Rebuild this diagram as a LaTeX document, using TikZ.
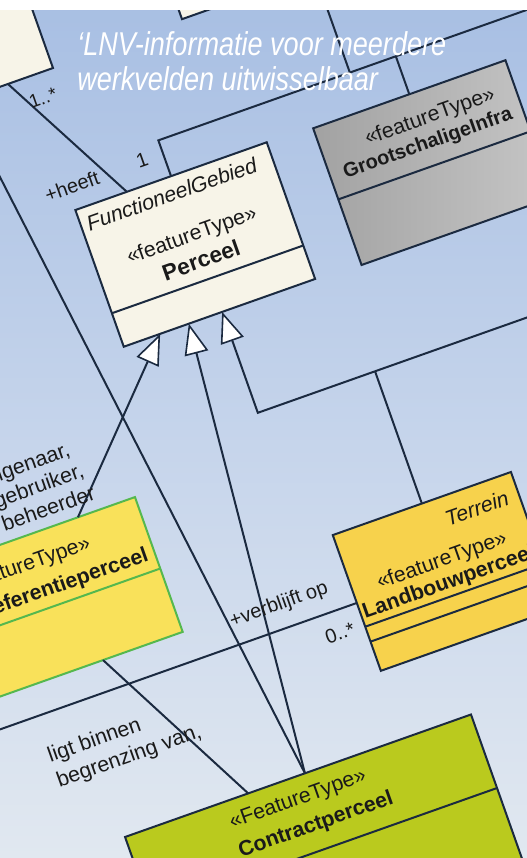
\documentclass[tikz,border=0pt]{standalone}
\usepackage{fontspec}
\setmainfont{Liberation Sans}
\newfontfamily\headfont[FakeStretch=0.82]{Liberation Sans}
\usetikzlibrary{arrows.meta,calc}
\definecolor{bgtop}{HTML}{A8BFE3}
\definecolor{bgmid}{HTML}{C5D4EB}
\definecolor{bgbot}{HTML}{E1E8F0}
\definecolor{linec}{HTML}{1B2A40}
\definecolor{cream}{HTML}{F7F4E8}
\definecolor{greyl}{HTML}{A2A2A2}
\definecolor{greyr}{HTML}{C6C6C6}
\definecolor{yel}{HTML}{F9E15A}
\definecolor{yelb}{HTML}{55B84E}
\definecolor{gold}{HTML}{F7D24C}
\definecolor{lime}{HTML}{BACA1E}
\definecolor{txt}{HTML}{1A1A1A}
\begin{document}
\begin{tikzpicture}[x=0.75pt,y=-0.75pt,
  umlbox/.style={draw=linec, line width=1.5pt, rotate=19.5, inner sep=0pt, outer sep=0pt},
  conn/.style={draw=linec, line width=1.5pt},
  gen/.style={conn, -{Triangle[fill=white, length=23pt, width=18pt, line width=1.2pt]}},
  lbl/.style={text=txt, rotate=19.5, inner sep=0pt, font=\fontsize{15}{18}\selectfont},
  btxt/.style={text=txt, rotate=19.5, inner sep=0pt, font=\fontsize{16}{19}\selectfont},
  bname/.style={btxt, font=\fontsize{16}{19}\selectfont\bfseries},
  head/.style={text=white, inner sep=0pt, anchor=base west, font=\headfont\itshape\fontsize{24.75}{26}\selectfont}
]
\useasboundingbox (0,0) rectangle (527,858);
\clip (0,0) rectangle (527,858);
\shade[top color=bgtop, bottom color=bgbot, middle color=bgmid] (0,0) rectangle (527,858);

% boxes
\node[umlbox, fill=cream, minimum width=150pt, minimum height=112.5pt] (TL) at (-66.3,30.7) {};
\node[umlbox, fill=cream, minimum width=112.5pt, minimum height=75pt] (TF) at (236,-53) {};
\node[umlbox, fill=cream, minimum width=152.25pt, minimum height=108.75pt] (P) at (195.25,244.5) {};
\draw[conn] ($(P.north west)!0.755!(P.south west)$) -- ($(P.north east)!0.755!(P.south east)$);
\node[umlbox, left color=greyl, right color=greyr, minimum width=153pt, minimum height=108.75pt] (G) at (433.5,162.6) {};
\draw[conn] ($(G.north west)!0.52!(G.south west)$) -- ($(G.north east)!0.52!(G.south east)$);
\node[umlbox, fill=yel, draw=yelb, minimum width=187.5pt, minimum height=107.25pt] (D) at (41,606.2) {};
\draw[conn, draw=yelb] ($(D.north west)!0.53!(D.south west)$) -- ($(D.north east)!0.53!(D.south east)$);
\node[umlbox, fill=gold, minimum width=141.75pt, minimum height=108pt] (L) at (445.9,571.4) {};
\draw[conn] ($(L.north west)!0.675!(L.south west)$) -- ($(L.north east)!0.675!(L.south east)$);
\draw[conn] ($(L.north west)!0.785!(L.south west)$) -- ($(L.north east)!0.785!(L.south east)$);
\node[umlbox, fill=lime, minimum width=275.25pt, minimum height=150pt] (C) at (331.4,870) {};
\draw[conn] ($(C.north west)!0.39!(C.south west)$) -- ($(C.north east)!0.39!(C.south east)$);

% connectors
\coordinate (c1) at ($(P.north)+(-12.7,-35.8)$);
\coordinate (e1) at ($(c1)+(386.9,-137)$);
\draw[conn] (P.north) -- (c1) -- (e1);
\coordinate (j1) at ($(c1)!(G.north)!(e1)$);
\draw[conn] (j1) -- (G.north);
\coordinate (j2) at ($(c1)+(191.5,-67.8)$);
\coordinate (u2) at ($(j2)+(-23.4,-66)$);
\draw[conn] (j2) -- (u2);

\draw[conn] ($(TL.south west)!0.761!(TL.south east)$) -- ($(P.north west)!0.269!(P.north east)$);

\draw[gen] ($(D.north west)!0.758!(D.north east)$) -- ($(P.south west)!0.19!(P.south east)$);
\draw[gen] ($(C.north west)!0.52!(C.north east)$) -- ($(P.south west)!0.34!(P.south east)$);
\coordinate (t3) at ($(P.south west)!0.514!(P.south east)$);
\coordinate (c3) at ($(t3)+(35.7,100.9)$);
\coordinate (e3) at ($(c3)+(283,-100.2)$);
\draw[gen] (e3) -- (c3) -- (t3);
\coordinate (j3) at ($(c3)!(L.north)!(e3)$);
\draw[conn] (j3) -- (L.north);

\coordinate (w6) at (-20,138);
\draw[conn] (w6) -- ($(C.north west)!0.52!(C.north east)$);
\coordinate (w7) at (-20,736.5);
\draw[conn] (w7) -- (L.west);
\draw[conn] ($(D.south west)!0.662!(D.south east)$) -- ($(C.north west)!0.356!(C.north east)$);

% box texts
\node[btxt, anchor=west, font=\fontsize{16}{19}\selectfont\itshape] (pf) at (87,224) {FunctioneelGebied};
\node[btxt] (ps) at (192,236) {«featureType»};
\node[bname, font=\fontsize{17}{20}\selectfont\bfseries] (pn) at (201,260) {Perceel};
\node[btxt] (gs) at (430,117) {«featureType»};
\node[bname, font=\fontsize{15}{18}\selectfont\bfseries] (gn) at (428,144) {GrootschaligeInfra};
\node[btxt, anchor=east] (ds) at (90,543) {«featureType»};
\node[bname, anchor=east] (dn) at (148,555) {Referentieperceel};
\node[btxt, anchor=east, font=\fontsize{16}{19}\selectfont\itshape] (lt) at (508,497) {Terrein};
\node[btxt] (ls) at (442,561) {«featureType»};
\node[bname] (ln) at (449,583) {Landbouwperceel};
\node[btxt] (cs) at (298,800) {«FeatureType»};
\node[bname] (cn) at (316,825) {Contractperceel};

% labels
\node[lbl, font=\fontsize{14}{16}\selectfont] (m1) at (43,98) {1..*};
\node[lbl] (m2) at (142,160) {1};
\node[lbl] (r1) at (72,186) {+heeft};
\node[lbl] (r2) at (279,605) {+verblijft op};
\node[lbl] (m3) at (340,633) {0..*};
\node[lbl, anchor=west, align=left, font=\fontsize{16}{20}\selectfont] (a1) at (53,770) {ligt binnen\\begrenzing van,};
\node[lbl, anchor=west, align=left, font=\fontsize{16}{18.4}\selectfont] (a2) at (-6,501) {eigenaar,\\gebruiker,\\beheerder};

% top band and heading
\fill[white] (0,0) rectangle (527,10);
\node[head] (h1) at (77,55) {‘LNV-informatie voor meerdere};
\node[head] (h2) at (77,90) {werkvelden uitwisselbaar};
\end{tikzpicture}
\end{document}
